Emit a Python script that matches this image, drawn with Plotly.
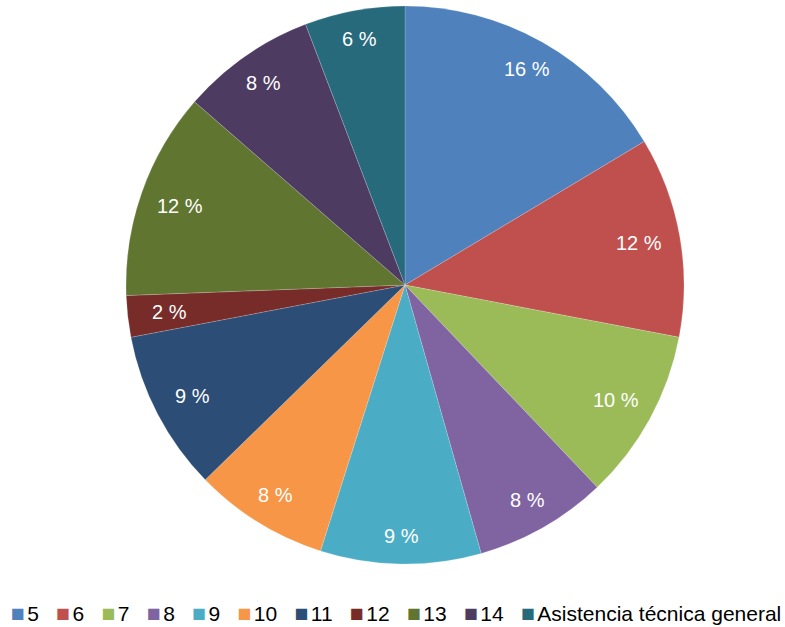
import math
import plotly.graph_objects as go

categories = ["5", "6", "7", "8", "9", "10", "11", "12", "13", "14",
              "Asistencia técnica general"]
shares = [16.4, 11.6, 9.9, 7.7, 9.3, 7.8, 9.3, 2.4, 12.0, 7.8, 5.8]
colors = ["#4F81BD", "#C0504D", "#9BBB59", "#8064A2", "#4BACC6", "#F79646",
          "#2C4D75", "#772C2A", "#5F7530", "#4D3B62", "#276A7C"]

W, H = 785, 627
margin = dict(l=25, r=0, t=6, b=63)
plot_w = W - margin["l"] - margin["r"]
plot_h = H - margin["t"] - margin["b"]
radius = min(plot_w, plot_h) / 2

fig = go.Figure()
fig.add_trace(go.Pie(
    labels=categories, values=shares,
    sort=False, direction="clockwise", rotation=0,
    marker=dict(colors=colors, line=dict(color="rgba(255,255,255,0.35)", width=0.5)),
    textinfo="none", hoverinfo="label+percent",
    showlegend=False,
))

# data labels near the outer edge of each slice (Excel "inside end" look)
total = sum(shares)
cum = 0
for v in shares:
    mid = (cum + v / 2) / total * 2 * math.pi
    cum += v
    txt = f"{round(v / total * 100)} %"
    s, c = math.sin(mid), math.cos(mid)
    r = radius * (0.9 - 0.05 * s * s)
    fig.add_annotation(
        x=0.5 + r * s / plot_w, y=0.5 + r * c / plot_h,
        xref="paper", yref="paper", xanchor="center", yanchor="middle",
        showarrow=False, text=txt,
        font=dict(family="Liberation Sans, Arial", size=20, color="white"),
    )

# legend drawn as one line of text with coloured squares
gap = "\u00a0" * 3
items = [f"<span style='color:{col};font-size:23px'>■</span>"
         f"<span style='font-size:8px'>\u00a0</span>{cat}"
         for cat, col in zip(categories, colors)]
fig.add_annotation(
    x=0.5, y=-0.087, xref="paper", yref="paper", xshift=-9,
    xanchor="center", yanchor="middle", showarrow=False,
    text=gap.join(items),
    font=dict(family="Liberation Sans, Arial", size=21, color="black"),
)

fig.update_layout(
    width=W, height=H,
    margin=margin,
    paper_bgcolor="white", plot_bgcolor="white",
)

fig.write_html("out.html", config={"displayModeBar": False},
               post_script="document.body.style.margin='0';")
